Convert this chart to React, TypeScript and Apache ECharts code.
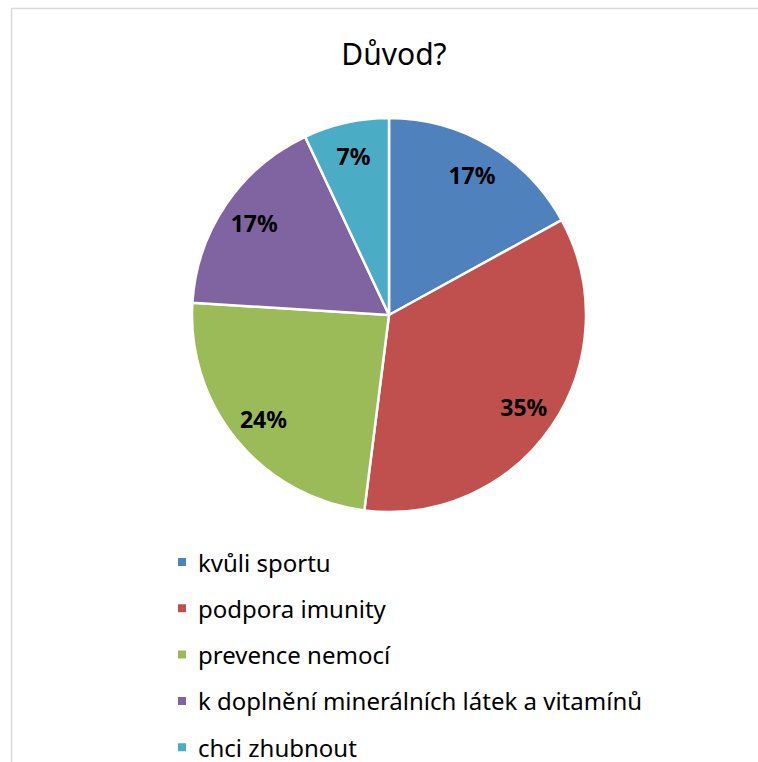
import React, { useEffect, useRef } from "react";
import * as echarts from "echarts";

const categories = [
  "kvůli sportu",
  "podpora imunity",
  "prevence nemocí",
  "k doplnění minerálních látek a vitamínů",
  "chci zhubnout",
];
const values = [17, 35, 24, 17, 7];
const colors = ["#4F81BD", "#C0504D", "#9BBB59", "#8064A2", "#4BACC6"];
const title = "Důvod?";

export default function App() {
  const ref = useRef<HTMLDivElement>(null);
  useEffect(() => {
    if (!ref.current) return;
    const chart = echarts.init(ref.current, undefined, { renderer: "svg" });
    const total = values.reduce((a, b) => a + b, 0);
    const data = categories.map((name, i) => ({
      name,
      value: values[i],
      itemStyle: { color: colors[i] },
    }));
    chart.setOption({
      animation: false,
      backgroundColor: "#ffffff",
      title: {
        text: title,
        left: 389,
        textAlign: "center",
        top: 33,
        textStyle: {
          fontFamily: "Noto Sans",
          fontSize: 30,
          fontWeight: "normal",
          color: "#000000",
        },
      },
      legend: {
        orient: "vertical",
        left: 176,
        top: 550,
        height: 300,
        padding: 0,
        icon: "rect",
        itemWidth: 10,
        itemHeight: 10,
        itemGap: 22.3,
        data: categories,
        textStyle: {
          fontFamily: "Noto Sans",
          fontSize: 24,
          lineHeight: 22,
          color: "#000000",
          padding: [0, 0, 0, 6],
        },
        selectedMode: false,
      },
      graphic: [
        {
          type: "line",
          shape: { x1: 11, y1: 8.5, x2: 758, y2: 8.5 },
          style: { stroke: "#d9d9d9", lineWidth: 1.5 },
          silent: true,
        },
        {
          type: "line",
          shape: { x1: 11.5, y1: 8, x2: 11.5, y2: 762 },
          style: { stroke: "#d9d9d9", lineWidth: 1.5 },
          silent: true,
        },
      ],
      series: [
        {
          type: "pie",
          center: [389, 315],
          radius: [0, 197],
          startAngle: 90,
          clockwise: true,
          data,
          label: { show: false },
          labelLine: { show: false },
          itemStyle: { borderColor: "#ffffff", borderWidth: 2.5 },
          emphasis: { disabled: true },
        },
        {
          type: "pie",
          center: [389, 315],
          radius: [140, 180],
          startAngle: 90,
          clockwise: true,
          silent: true,
          data: categories.map((name, i) => ({
            name,
            value: values[i],
            itemStyle: { color: "transparent" },
          })),
          itemStyle: { borderWidth: 0 },
          label: {
            show: true,
            position: "inside",
            formatter: (p: any) => Math.round((p.value / total) * 100) + "%",
            fontFamily: "Noto Sans",
            fontWeight: "bold",
            fontSize: 23,
            color: "#000000",
          },
          labelLine: { show: false },
          emphasis: { disabled: true },
        },
      ],
    });
    return () => chart.dispose();
  }, []);
  return (
    <div
      ref={ref}
      style={{ position: "fixed", left: 0, top: 0, width: 758, height: 762 }}
    />
  );
}
